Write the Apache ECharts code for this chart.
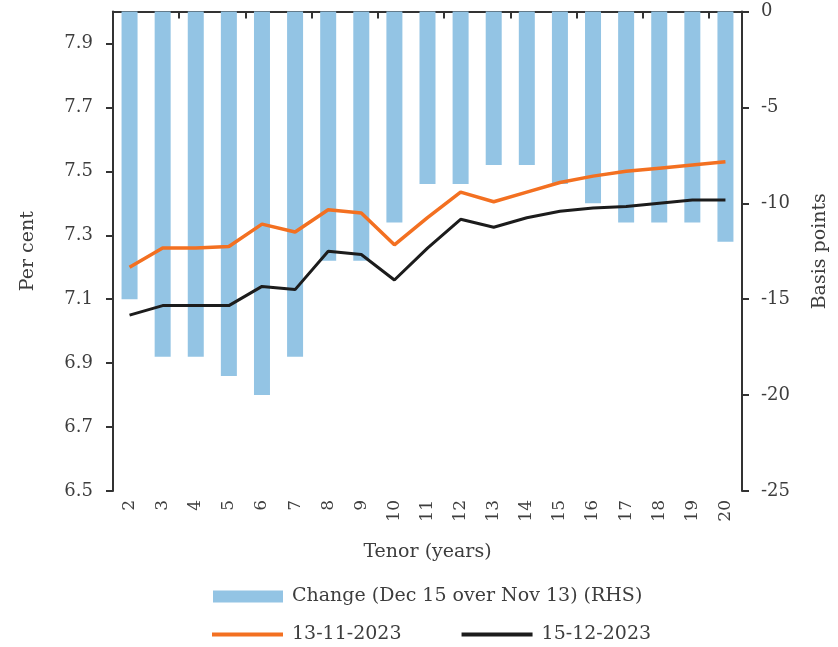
<!DOCTYPE html>
<html>
<head>
<meta charset="utf-8">
<script src="https://cdn.jsdelivr.net/npm/echarts@6/dist/echarts.min.js"></script>
<style>
    html, body { margin: 0; padding: 0; background: #fff; }
    #chart { width: 838px; height: 647px; }
</style>
</head>
<body>
<div id="chart"></div>
<script>
// tenor in years
var tenor = ['2','3','4','5','6','7','8','9','10','11','12','13','14','15','16','17','18','19','20'];
// change in basis points (RHS)
var change = [-15,-18,-18,-19,-20,-18,-13,-13,-11,-9,-9,-8,-8,-9,-10,-11,-11,-11,-12];
// yield curves, per cent
var nov13 = [7.20,7.26,7.26,7.265,7.335,7.31,7.38,7.37,7.27,7.355,7.435,7.405,7.435,7.465,7.485,7.50,7.51,7.52,7.53];
var dec15 = [7.05,7.08,7.08,7.08,7.14,7.13,7.25,7.24,7.16,7.26,7.35,7.325,7.355,7.375,7.385,7.39,7.40,7.41,7.41];
var leftTicks = [6.5,6.7,6.9,7.1,7.3,7.5,7.7,7.9];

var FONT = 'DejaVu Serif';
var TXT = '#3d3d3d';
var AX = '#333';

var chart = echarts.init(document.getElementById('chart'));

var option = {
    animation: false,
    textStyle: {fontFamily: FONT, color: TXT},
    grid: {left: 113, right: 96, top: 11.5, bottom: 156, outerBoundsMode: 'none', containLabel: false},
    legend: [
        {
            data: ['Change (Dec 15 over Nov 13) (RHS)'],
            left: 208, top: 582,
            itemWidth: 70, itemHeight: 12,
            icon: 'rect',
            textStyle: {fontFamily: FONT, fontSize: 19, color: TXT, padding: [0,0,0,4]}
        },
        {
            data: ['13-11-2023','15-12-2023'],
            left: 207, top: 620,
            itemWidth: 71, itemHeight: 4,
            itemGap: 60,
            icon: 'rect',
            textStyle: {fontFamily: FONT, fontSize: 19, color: TXT, padding: [0,0,0,4]}
        }
    ],
    xAxis: {
        type: 'category',
        data: tenor,
        name: 'Tenor (years)',
        nameLocation: 'middle',
        nameGap: 52,
        nameTextStyle: {fontFamily: FONT, fontSize: 19, color: TXT},
        axisLine: {lineStyle: {color: AX, width: 2}},
        axisTick: {show: true, interval: 1, length: 7, lineStyle: {color: AX, width: 2}},
        axisLabel: {interval: 0, rotate: 90, margin: 9, fontFamily: FONT, fontSize: 17, color: TXT}
    },
    yAxis: [
        {
            type: 'value',
            min: 6.5, max: 8.0,
            name: 'Per cent',
            nameLocation: 'middle',
            nameRotate: 90,
            nameGap: 75,
            nameTextStyle: {fontFamily: FONT, fontSize: 19, color: TXT},
            splitLine: {show: false},
            axisLine: {show: true, lineStyle: {color: AX, width: 2}},
            axisTick: {show: true, length: 7, customValues: leftTicks, lineStyle: {color: AX, width: 2}},
            axisLabel: {
                customValues: leftTicks, margin: 20,
                fontFamily: FONT, fontSize: 18, color: TXT,
                formatter: function (v) { return v.toFixed(1); }
            }
        },
        {
            type: 'value',
            min: -25, max: 0, interval: 5,
            position: 'right',
            name: 'Basis points',
            nameLocation: 'middle',
            nameRotate: 90,
            nameGap: 69,
            nameTextStyle: {fontFamily: FONT, fontSize: 19, color: TXT},
            splitLine: {show: false},
            axisLine: {show: true, lineStyle: {color: AX, width: 2}},
            axisTick: {show: true, length: 7, lineStyle: {color: AX, width: 2}},
            axisLabel: {margin: 19, fontFamily: FONT, fontSize: 18, color: TXT}
        }
    ],
    series: [
        {
            name: 'Change (Dec 15 over Nov 13) (RHS)',
            type: 'bar',
            yAxisIndex: 1,
            data: change,
            barWidth: 16,
            itemStyle: {color: '#93c4e4'},
            z: 1
        },
        {
            name: '13-11-2023',
            type: 'line',
            yAxisIndex: 0,
            data: nov13,
            symbol: 'none',
            lineStyle: {color: '#f37021', width: 3.5},
            itemStyle: {color: '#f37021'},
            z: 3
        },
        {
            name: '15-12-2023',
            type: 'line',
            yAxisIndex: 0,
            data: dec15,
            symbol: 'none',
            lineStyle: {color: '#1c1c1c', width: 3},
            itemStyle: {color: '#1c1c1c'},
            z: 3
        }
    ]
};

chart.setOption(option);
</script>
</body>
</html>
